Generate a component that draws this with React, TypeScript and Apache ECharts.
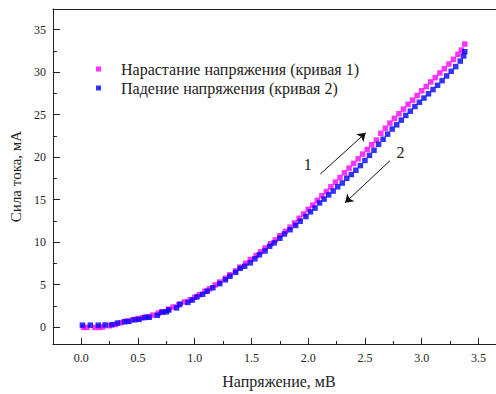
import React, { useEffect, useRef } from "react";
import * as echarts from "echarts";

const seriesNames = ["Нарастание напряжения (кривая 1)", "Падение напряжения (кривая 2)"];

const voltUp = [0.02, 0.05, 0.12, 0.16, 0.19, 0.25, 0.3, 0.35, 0.4, 0.45, 0.5, 0.54, 0.58, 0.63, 0.68, 0.72, 0.77, 0.81, 0.86, 0.91, 0.96, 1.0, 1.04, 1.09, 1.13, 1.18, 1.22, 1.27, 1.31, 1.36, 1.4, 1.45, 1.49, 1.54, 1.58, 1.62, 1.67, 1.71, 1.75, 1.8, 1.84, 1.88, 1.92, 1.96, 2.0, 2.04, 2.08, 2.12, 2.16, 2.2, 2.24, 2.28, 2.32, 2.36, 2.4, 2.44, 2.48, 2.52, 2.56, 2.6, 2.64, 2.68, 2.72, 2.76, 2.8, 2.84, 2.88, 2.92, 2.96, 3.0, 3.04, 3.08, 3.12, 3.16, 3.2, 3.24, 3.28, 3.32, 3.35, 3.38];
const currUp = [-0.05, -0.05, -0.05, -0.05, 0.0, 0.15, 0.3, 0.5, 0.7, 0.85, 1.0, 1.1, 1.2, 1.4, 1.65, 1.8, 2.1, 2.35, 2.6, 2.95, 3.2, 3.5, 3.8, 4.2, 4.5, 4.95, 5.3, 5.75, 6.15, 6.6, 7.05, 7.5, 7.95, 8.4, 8.85, 9.3, 9.8, 10.25, 10.75, 11.25, 11.75, 12.25, 12.8, 13.3, 13.85, 14.35, 14.9, 15.45, 15.95, 16.5, 17.05, 17.6, 18.15, 18.7, 19.25, 19.8, 20.35, 20.9, 21.45, 22.0, 22.8, 23.4, 24.0, 24.55, 25.1, 25.65, 26.2, 26.7, 27.25, 27.8, 28.3, 28.85, 29.35, 29.9, 30.4, 30.95, 31.5, 32.1, 32.6, 33.3];

const voltDown = [0.01, 0.08, 0.15, 0.21, 0.27, 0.32, 0.38, 0.42, 0.47, 0.51, 0.56, 0.6, 0.67, 0.71, 0.75, 0.77, 0.84, 0.87, 0.94, 0.98, 1.02, 1.07, 1.11, 1.16, 1.22, 1.27, 1.31, 1.36, 1.4, 1.44, 1.49, 1.53, 1.57, 1.62, 1.66, 1.7, 1.75, 1.79, 1.84, 1.89, 1.93, 1.98, 2.02, 2.06, 2.1, 2.14, 2.18, 2.22, 2.26, 2.3, 2.34, 2.38, 2.42, 2.46, 2.5, 2.54, 2.58, 2.62, 2.66, 2.7, 2.74, 2.78, 2.82, 2.86, 2.9, 2.94, 2.98, 3.02, 3.06, 3.1, 3.14, 3.18, 3.22, 3.26, 3.3, 3.34, 3.37, 3.38];
const currDown = [0.22, 0.22, 0.22, 0.24, 0.27, 0.46, 0.62, 0.66, 0.86, 0.9, 1.12, 1.15, 1.38, 1.75, 1.78, 2.0, 2.25, 2.7, 2.9, 3.18, 3.55, 3.85, 4.22, 4.62, 5.1, 5.55, 5.97, 6.44, 6.9, 7.15, 7.55, 8.02, 8.5, 8.95, 9.5, 9.9, 10.45, 10.95, 11.45, 11.95, 12.45, 13.0, 13.55, 14.0, 14.6, 15.05, 15.55, 16.0, 16.5, 16.95, 17.5, 17.95, 18.45, 19.0, 19.6, 20.2, 20.8, 21.5, 22.1, 22.7, 23.3, 23.8, 24.35, 24.9, 25.4, 25.95, 26.45, 26.95, 27.45, 27.95, 28.45, 29.0, 29.55, 30.1, 30.65, 31.3, 31.9, 32.4];

const xMajorTicks = [0, 0.5, 1.0, 1.5, 2.0, 2.5, 3.0, 3.5];
const xMinorTicks = [0.25, 0.75, 1.25, 1.75, 2.25, 2.75, 3.25];
const yMajorTicks = [0, 5, 10, 15, 20, 25, 30, 35];
const yMinorTicks = [2.5, 7.5, 12.5, 17.5, 22.5, 27.5, 32.5];

// annotation arrows (data coordinates): [x0, y0, x1, y1]
const arrowUp = [2.106, 18.0, 2.507, 22.85];
const arrowDown = [2.72, 19.57, 2.325, 14.62];
const labelUp = [1.996, 19.1];
const labelDown = [2.813, 20.55];

const FONT = "Liberation Serif";
const INK = "#222";

export default function App() {
  const ref = useRef<HTMLDivElement>(null);
  useEffect(() => {
    const chart = echarts.init(ref.current!, null, { renderer: "svg" });
    const upData = voltUp.map((v, i) => [v, currUp[i]]);
    const downData = voltDown.map((v, i) => [v, currDown[i]]);
    const xMin = -0.25, xMax = 3.655, yMin = -2, yMax = 37.43;
    const lbl = { fontFamily: FONT, fontSize: 12, color: INK };
    chart.setOption({
      animation: false,
      textStyle: { fontFamily: FONT },
      grid: { left: 51, top: 9, right: 0, bottom: 45 },
      legend: {
        orient: "vertical",
        left: 96,
        top: 61,
        padding: 0,
        itemWidth: 5,
        itemHeight: 5,
        itemGap: 3,
        icon: "rect",
        data: seriesNames,
        textStyle: { fontFamily: FONT, fontSize: 16, color: INK, padding: [0, 0, 0, 15] },
      },
      xAxis: [
        {
          type: "value", position: "bottom", min: xMin, max: xMax,
          splitLine: { show: false },
          axisLine: { show: true, onZero: false, lineStyle: { color: INK, width: 1 } },
          axisTick: { show: true, inside: true, length: 6, customValues: xMajorTicks, lineStyle: { color: INK } },
          axisLabel: { show: true, margin: 8, customValues: xMajorTicks, formatter: (v: number) => v.toFixed(1), ...lbl },
          name: "Напряжение, мВ",
          nameLocation: "middle",
          nameGap: 29,
          nameTextStyle: { fontFamily: FONT, fontSize: 16, color: INK, padding: [0, 0, 0, 9] },
        },
        {
          type: "value", position: "bottom", min: xMin, max: xMax,
          splitLine: { show: false },
          axisLine: { show: false, onZero: false },
          axisTick: { show: true, inside: true, length: 3, customValues: xMinorTicks, lineStyle: { color: INK } },
          axisLabel: { show: false },
        },
        {
          type: "value", position: "top", min: xMin, max: xMax,
          splitLine: { show: false },
          axisLine: { show: true, onZero: false, lineStyle: { color: INK, width: 1 } },
          axisTick: { show: false },
          axisLabel: { show: false },
        },
      ],
      yAxis: [
        {
          type: "value", position: "left", min: yMin, max: yMax,
          splitLine: { show: false },
          axisLine: { show: true, onZero: false, lineStyle: { color: INK, width: 1 } },
          axisTick: { show: true, inside: true, length: 7, customValues: yMajorTicks, lineStyle: { color: INK } },
          axisLabel: { show: true, margin: 7, customValues: yMajorTicks, ...lbl },
          name: "Сила тока, мА",
          nameLocation: "middle",
          nameGap: 26,
          nameTextStyle: { fontFamily: FONT, fontSize: 15, color: INK },
        },
        {
          type: "value", position: "left", min: yMin, max: yMax,
          splitLine: { show: false },
          axisLine: { show: false, onZero: false },
          axisTick: { show: true, inside: true, length: 4, customValues: yMinorTicks, lineStyle: { color: INK } },
          axisLabel: { show: false },
        },
      ],
      series: [
        {
          name: seriesNames[0],
          type: "scatter",
          symbol: "rect",
          symbolSize: 5.5,
          itemStyle: { color: "#ff00ff" },
          data: upData,
          markLine: {
            silent: true,
            symbol: ["none", "arrow"],
            symbolSize: 8,
            label: { show: false },
            itemStyle: { color: "#111" },
            lineStyle: { color: "#111", width: 1, type: "solid" },
            data: [
              [{ coord: [arrowUp[0], arrowUp[1]] }, { coord: [arrowUp[2], arrowUp[3]] }],
              [{ coord: [arrowDown[0], arrowDown[1]] }, { coord: [arrowDown[2], arrowDown[3]] }],
            ],
          },
          markPoint: {
            silent: true,
            symbol: "circle",
            symbolSize: 1,
            itemStyle: { color: "rgba(0,0,0,0)" },
            label: { show: true, position: "inside", fontFamily: FONT, fontSize: 16, color: INK },
            data: [
              { coord: labelUp, value: "1", label: { formatter: "1" } },
              { coord: labelDown, value: "2", label: { formatter: "2" } },
            ],
          },
        },
        {
          name: seriesNames[1],
          type: "scatter",
          symbol: "rect",
          symbolSize: 5.5,
          itemStyle: { color: "#0000ff" },
          data: downData,
        },
      ],
    });
    return () => chart.dispose();
  }, []);
  return (
    <div
      ref={ref}
      style={{ position: "fixed", left: 0, top: 0, width: 496, height: 394, background: "#fff" }}
    />
  );
}
